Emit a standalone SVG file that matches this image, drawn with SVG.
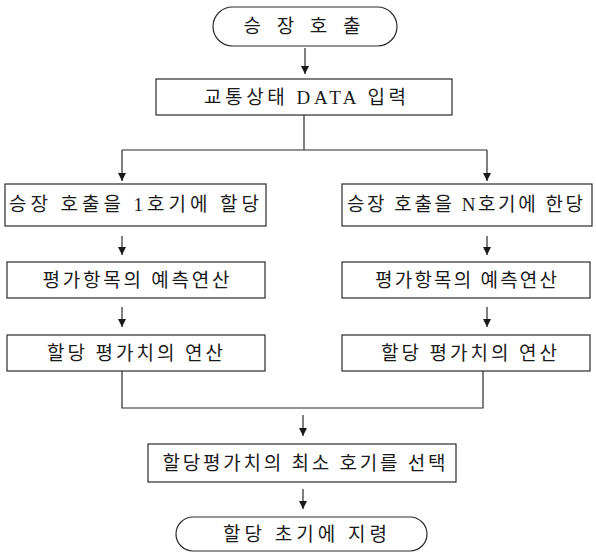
<svg xmlns="http://www.w3.org/2000/svg" width="596" height="554" viewBox="0 0 596 554">
  <style>
    .box { fill: #ffffff; stroke: #2a2a2a; stroke-width: 1.2; }
    .lbl { font-family: "Liberation Serif", "Noto Sans CJK KR", serif; font-size: 19px; fill: #1a1a1a; text-anchor: middle; }
    .wire { fill: none; stroke: #2a2a2a; stroke-width: 1.2; }
  </style>
  <defs>
    <marker id="arrow" viewBox="0 0 8 10" refX="8" refY="5" markerWidth="8" markerHeight="10" markerUnits="userSpaceOnUse" orient="auto">
      <path d="M0,1 L8,5 L0,9 z" fill="#1a1a1a"/>
    </marker>
  </defs>
  <rect width="596" height="554" fill="#ffffff"/>

  <g id="connectors">
    <line class="wire" x1="305" y1="48" x2="305" y2="74" marker-end="url(#arrow)"/>
    <polyline class="wire" points="304,115 304,150"/>
    <polyline class="wire" points="122,150 487,150"/>
    <line class="wire" x1="122" y1="150" x2="122" y2="181" marker-end="url(#arrow)"/>
    <line class="wire" x1="487" y1="150" x2="487" y2="181" marker-end="url(#arrow)"/>
    <line class="wire" x1="122" y1="236" x2="122" y2="255" marker-end="url(#arrow)"/>
    <line class="wire" x1="487" y1="236" x2="487" y2="255" marker-end="url(#arrow)"/>
    <line class="wire" x1="122" y1="307" x2="122" y2="327" marker-end="url(#arrow)"/>
    <line class="wire" x1="487" y1="307" x2="487" y2="327" marker-end="url(#arrow)"/>
    <polyline class="wire" points="122,371 122,408 483,408 483,371"/>
    <line class="wire" x1="303" y1="415" x2="303" y2="436" marker-end="url(#arrow)"/>
    <line class="wire" x1="303" y1="489" x2="303" y2="509" marker-end="url(#arrow)"/>
  </g>

  <g id="start">
    <rect class="box" x="213" y="7" width="184" height="39" rx="19.5"/>
    <text class="lbl" x="302" y="33" textLength="117" lengthAdjust="spacing">승 장 호 출</text>
  </g>
  <g id="input">
    <rect class="box" x="156" y="79" width="296" height="36"/>
    <text class="lbl" x="305" y="104" textLength="202" lengthAdjust="spacing">교통상태 DATA 입력</text>
  </g>
  <g id="assign-1">
    <rect class="box" x="5" y="184" width="261" height="42"/>
    <text class="lbl" x="134" y="211" textLength="250" lengthAdjust="spacing">승장 호출을 1호기에 할당</text>
  </g>
  <g id="assign-n">
    <rect class="box" x="342" y="184" width="250" height="42"/>
    <text class="lbl" x="465" y="211" textLength="236" lengthAdjust="spacing">승장 호출을 N호기에 한당</text>
  </g>
  <g id="predict-1">
    <rect class="box" x="7" y="262" width="258" height="36"/>
    <text class="lbl" x="136" y="287" textLength="187" lengthAdjust="spacing">평가항목의 예측연산</text>
  </g>
  <g id="predict-n">
    <rect class="box" x="342" y="262" width="248" height="36"/>
    <text class="lbl" x="466" y="287" textLength="182" lengthAdjust="spacing">평가항목의 예측연산</text>
  </g>
  <g id="eval-1">
    <rect class="box" x="7" y="335" width="258" height="36"/>
    <text class="lbl" x="135" y="360" textLength="176" lengthAdjust="spacing">할당 평가치의 연산</text>
  </g>
  <g id="eval-n">
    <rect class="box" x="342" y="335" width="248" height="36"/>
    <text class="lbl" x="469" y="360" textLength="176" lengthAdjust="spacing">할당 평가치의 연산</text>
  </g>
  <g id="select-min">
    <rect class="box" x="148" y="444" width="308" height="38"/>
    <text class="lbl" x="304" y="470" textLength="283" lengthAdjust="spacing">할당평가치의 최소 호기를 선택</text>
  </g>
  <g id="command">
    <rect class="box" x="176" y="517" width="251" height="34" rx="17"/>
    <text class="lbl" x="305" y="541" textLength="164" lengthAdjust="spacing">할당 초기에 지령</text>
  </g>
</svg>
